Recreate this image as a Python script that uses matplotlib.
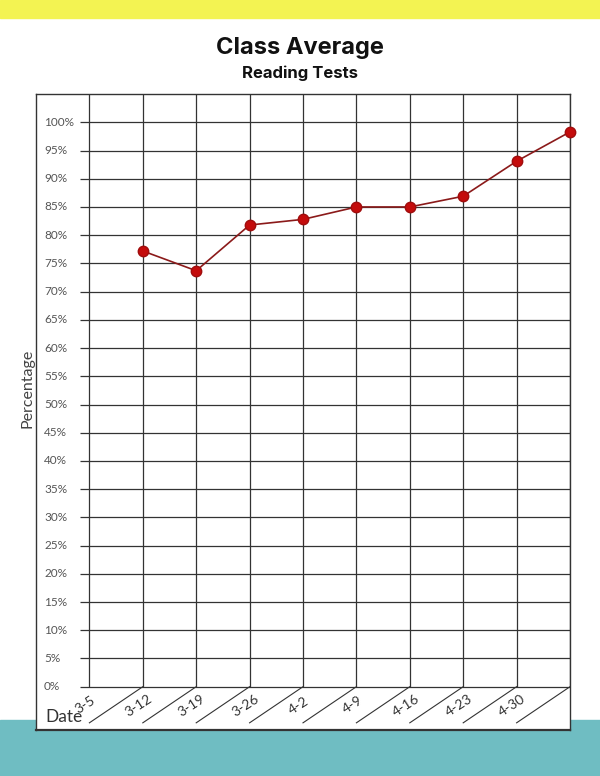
import matplotlib.pyplot as plt
from matplotlib.patches import Rectangle
import numpy as np

dates = ['3-5', '3-12', '3-19', '3-26', '4-2', '4-9', '4-16', '4-23', '4-30']
scores = [77.2, 73.7, 81.8, 82.8, 85.0, 85.0, 86.9, 93.1, 98.3]
yticks = list(range(0, 101, 5))

W, H = 600, 776
fig = plt.figure(figsize=(W / 100, H / 100), dpi=100)
fig.patch.set_facecolor('white')

# colour bands
fig.patches.append(Rectangle((0, 1 - 18 / H), 1, 18 / H, transform=fig.transFigure,
                             color='#f3f352', zorder=-5))
fig.patches.append(Rectangle((0, 0), 1, 56 / H, transform=fig.transFigure,
                             color='#6fbdc2', zorder=-5))

fig.text(0.5, 1 - 48 / H, 'Class Average', fontsize=17, fontweight='bold',
         family='Inter', ha='center', va='center', color='#111111')
fig.text(0.5, 1 - 73 / H, 'Reading Tests', fontsize=12, fontweight='bold',
         family='Inter', ha='center', va='center', color='#111111')

# box covers px 36..570 x 94..730
ax = fig.add_axes([36 / W, (H - 730) / H, (570 - 36) / W, (730 - 94) / H])
ax.set_zorder(2)
ax.set_facecolor('white')
ax.set_xlim(-1, len(dates))
ax.set_ylim((686.7 - 730) / 5.644, (686.7 - 94) / 5.644)
ax.set_xticks([])
ax.set_yticks([])
for s in ax.spines.values():
    s.set_color('#333333')
    s.set_linewidth(1.0)
ax.spines['bottom'].set_linewidth(1.6)

xs = np.arange(len(dates) + 1)
ax.hlines(yticks, -0.17, xs[-1], color='#333333', lw=0.9)
ax.vlines(xs, 0, 106, color='#333333', lw=0.9)

# slanted date cells
for i in xs[1:]:
    ax.plot([i, i - 1], [0, -6.4], color='#333333', lw=0.8)

for i, d in enumerate(dates):
    ax.text(i - 0.08, -3.3, d, rotation=33, ha='center', va='center',
            fontsize=10, family='Lato', color='#333333')

for v in yticks:
    ax.text(-0.85, v, f'{v}%', ha='left', va='center', fontsize=8.5,
            family='Lato', color='#555555')

ax.text(-0.83, -5.4, 'Date', ha='left', va='center', fontsize=12.5,
        family='Lato', color='#333333')

fig.text(27 / W, 1 - 388 / H, 'Percentage', rotation=90, ha='center', va='center',
         fontsize=11.5, family='Lato', color='#444444')

ax.plot(xs[1:], scores, color='#8b1a1a', lw=1.2, marker='o', markersize=7.5,
        markerfacecolor='#c40c0c', markeredgecolor='#a00d0d', clip_on=False, zorder=5)

fig.savefig('out.png', dpi=100)
